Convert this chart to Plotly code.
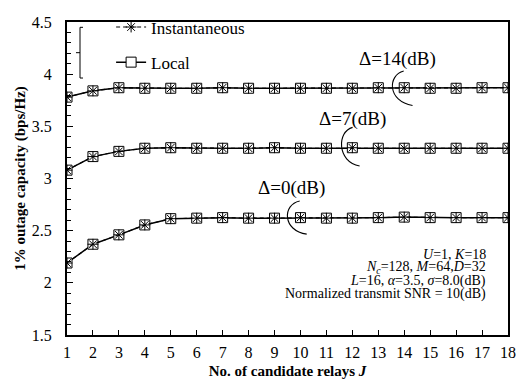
import plotly.graph_objects as go

J = list(range(1, 19))
x_ticks = list(range(1, 19))

# Delta = 14 dB
inst_d14 = [3.78, 3.84, 3.87, 3.865, 3.865, 3.865, 3.87, 3.865, 3.865, 3.865, 3.865, 3.865, 3.87, 3.87, 3.865, 3.865, 3.87, 3.87]
local_d14 = [3.78, 3.84, 3.87, 3.865, 3.865, 3.865, 3.87, 3.865, 3.865, 3.865, 3.865, 3.865, 3.87, 3.87, 3.865, 3.865, 3.87, 3.87]
# Delta = 7 dB
inst_d7 = [3.08, 3.21, 3.26, 3.29, 3.295, 3.29, 3.29, 3.29, 3.295, 3.29, 3.29, 3.295, 3.29, 3.29, 3.29, 3.29, 3.29, 3.29]
local_d7 = [3.08, 3.21, 3.26, 3.29, 3.295, 3.29, 3.29, 3.29, 3.295, 3.29, 3.29, 3.295, 3.29, 3.29, 3.29, 3.29, 3.29, 3.29]
# Delta = 0 dB
inst_d0 = [2.19, 2.37, 2.46, 2.555, 2.615, 2.62, 2.625, 2.62, 2.62, 2.625, 2.62, 2.62, 2.625, 2.63, 2.625, 2.625, 2.625, 2.625]
local_d0 = [2.19, 2.37, 2.46, 2.555, 2.615, 2.62, 2.625, 2.62, 2.62, 2.625, 2.62, 2.62, 2.625, 2.63, 2.625, 2.625, 2.625, 2.625]

FONT = "Liberation Serif"

fig = go.Figure()

locals_ = [local_d14, local_d7, local_d0]
insts = [inst_d14, inst_d7, inst_d0]

for i, ys in enumerate(locals_):
    fig.add_trace(go.Scatter(
        x=J, y=ys, mode="lines+markers", name="Local",
        legendgroup="local", showlegend=(i == 0), legendrank=2,
        line=dict(color="black", width=1.5),
        marker=dict(symbol="square", size=10, color="white",
                    line=dict(color="black", width=1)),
    ))
for i, ys in enumerate(insts):
    fig.add_trace(go.Scatter(
        x=J, y=ys, mode="lines+markers", name="Instantaneous",
        legendgroup="inst", showlegend=(i == 0), legendrank=1,
        line=dict(color="black", width=1.1, dash="4px,3px"),
        marker=dict(symbol="asterisk-open", size=9, color="black",
                    line=dict(color="black", width=1)),
    ))

# curly "arc" markers around curves
arcs = [
    "M 13.98,4.03 C 13.35,3.99 13.35,3.74 14.32,3.70",
    "M 12.01,3.49 C 11.40,3.45 11.40,3.16 12.28,3.12",
    "M 9.97,2.785 C 9.30,2.75 9.30,2.50 10.24,2.467",
]
shapes = [dict(type="path", xref="x", yref="y", path=p,
               line=dict(color="black", width=1.1)) for p in arcs]
# legend bracket
shapes.append(dict(type="path", xref="paper", yref="paper",
                   path="M 0.0363,0.983 L 0.0295,0.983 L 0.0295,0.821 L 0.0363,0.821 M 0.0295,0.902 L 0.0204,0.902",
                   line=dict(color="black", width=1)))

annotations = [
    dict(x=13.75, y=4.15, text="Δ=14(dB)", showarrow=False, font=dict(family=FONT, size=19, color="black")),
    dict(x=12.01, y=3.57, text="Δ=7(dB)", showarrow=False, font=dict(family=FONT, size=19, color="black")),
    dict(x=9.67, y=2.91, text="Δ=0(dB)", showarrow=False, font=dict(family=FONT, size=19, color="black")),
]
note_lines = [
    "<i>U</i>=1, <i>K</i>=18",
    "<i>N<sub>c</sub></i>=128, <i>M</i>=64,<i>D</i>=32",
    "<i>L</i>=16, <i>α</i>=3.5, <i>σ</i>=8.0(dB)",
    "Normalized transmit SNR = 10(dB)",
]
note_y = [253, 266.5, 280, 293.5]
for t, py in zip(note_lines, note_y):
    annotations.append(dict(
        xref="paper", yref="paper", x=(488 - 67) / 441, y=(335.5 - py) / 321,
        xanchor="right", yanchor="middle", text=t, showarrow=False,
        font=dict(family=FONT, size=14, color="black")))

fig.update_layout(
    width=517, height=389,
    margin=dict(l=67, r=9, t=14, b=54),
    paper_bgcolor="white", plot_bgcolor="white",
    font=dict(family=FONT, size=16, color="black"),
    shapes=shapes, annotations=annotations,
    showlegend=True,
    legend=dict(x=0.1, y=1.04, xanchor="left", yanchor="top",
                bgcolor="rgba(0,0,0,0)", font=dict(family=FONT, size=17),
                tracegroupgap=10),
    xaxis=dict(range=[1, 18], tickvals=x_ticks, ticktext=[str(v) for v in x_ticks],
               ticks="inside", ticklen=5, tickwidth=1, tickcolor="black",
               showline=True, linewidth=2, linecolor="black", mirror=True,
               showgrid=False, zeroline=False, ticklabelstandoff=2,
               ticklabeloverflow="allow", automargin=False,
               title=dict(text="<b>No. of candidate relays <i>J</i></b>",
                          font=dict(family=FONT, size=15), standoff=5)),
    yaxis=dict(range=[1.5, 4.5], dtick=0.5, tick0=1.5,
               ticks="inside", ticklen=6, tickwidth=1, tickcolor="black",
               minor=dict(dtick=0.1, ticks="inside", ticklen=4, tickwidth=1, tickcolor="black"),
               showline=True, linewidth=2, linecolor="black", mirror=True,
               showgrid=False, zeroline=False, ticklabelstandoff=10,
               ticklabeloverflow="allow", automargin=False,
               title=dict(text="<b>1% outage capacity (bps/Hz)</b>",
                          font=dict(family=FONT, size=15), standoff=3)),
)

fig.write_html("out.html", config={"displayModeBar": False},
               post_script="document.body.style.margin='0';document.body.style.overflow='hidden';")
